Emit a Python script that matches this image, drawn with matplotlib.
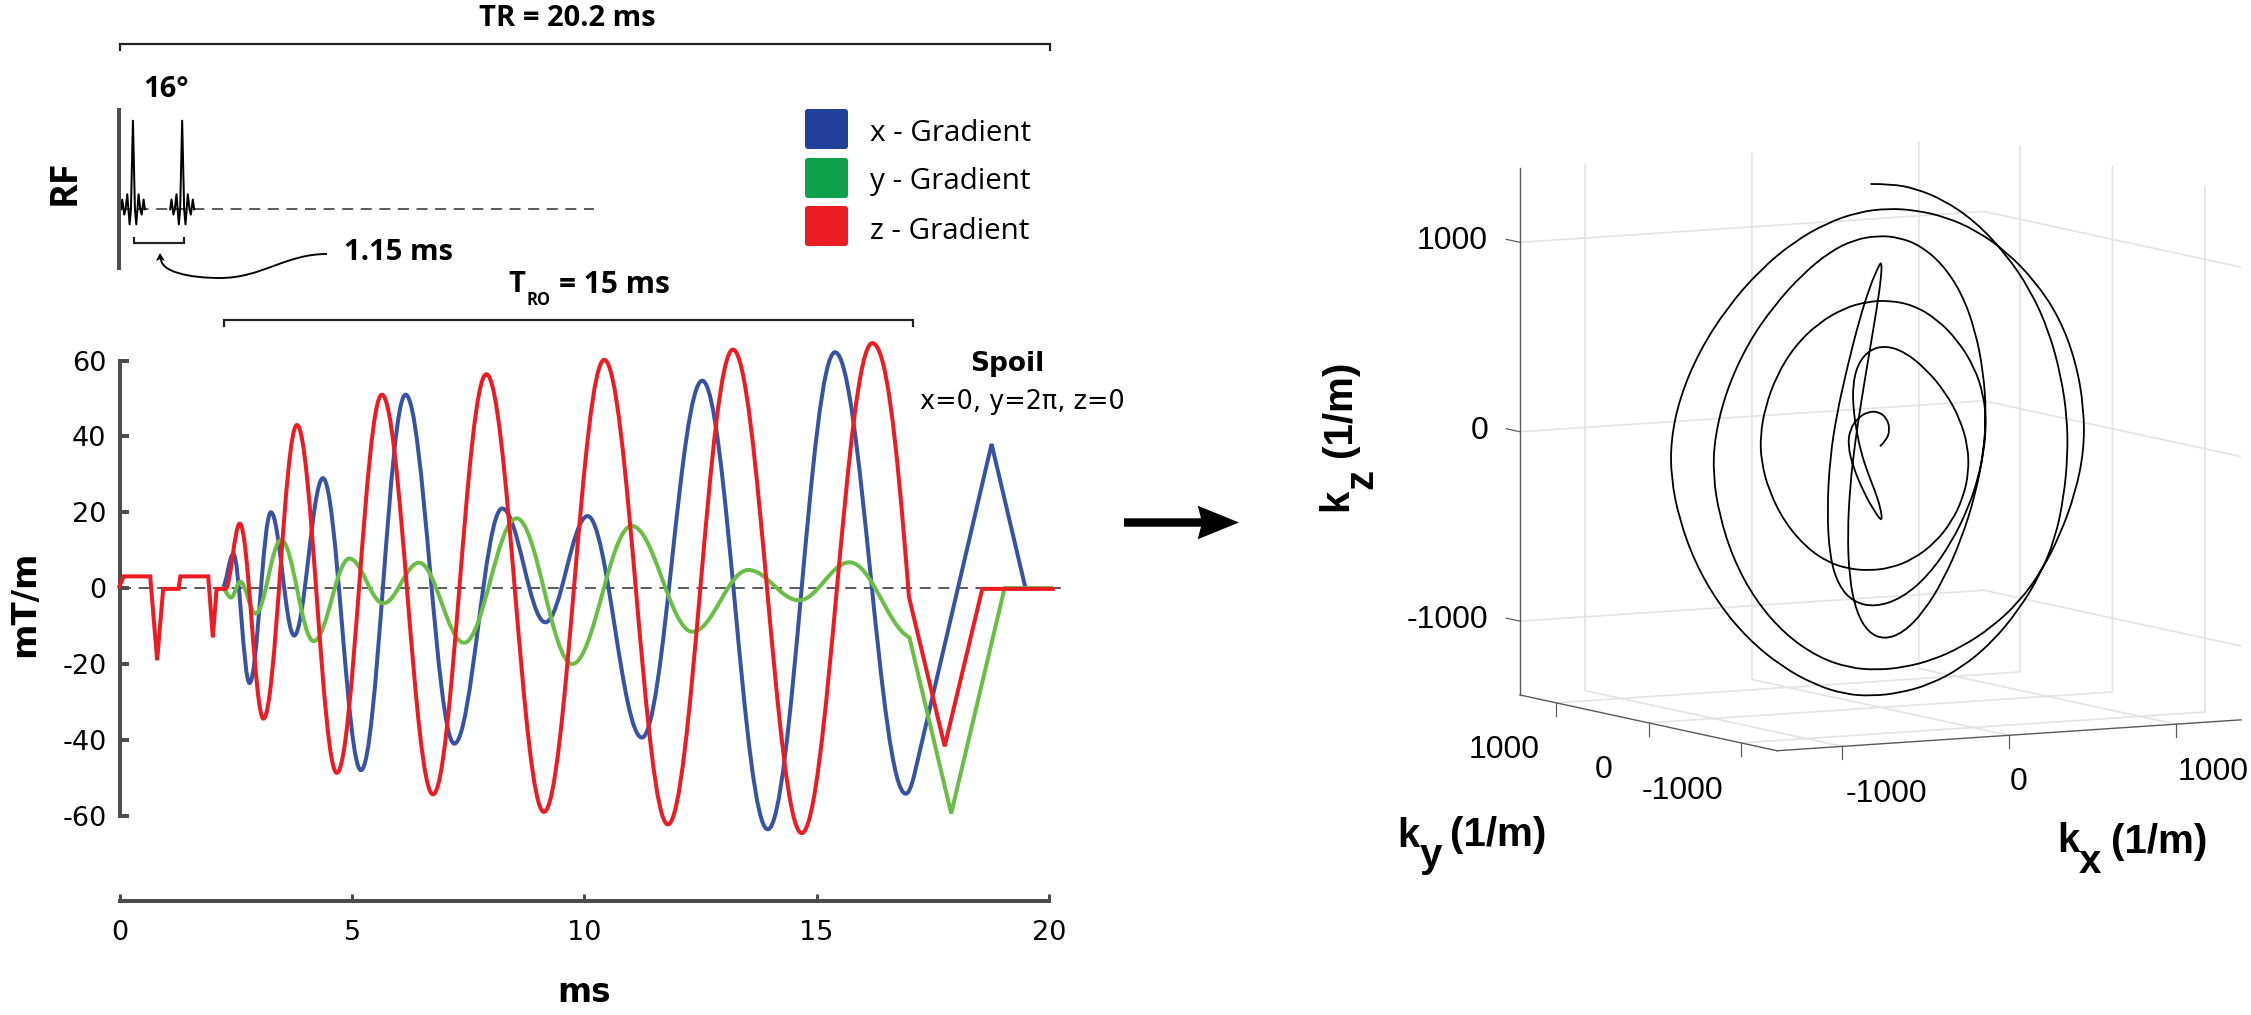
import numpy as np
import matplotlib
matplotlib.use("Agg")
import matplotlib.pyplot as plt
from matplotlib.path import Path
from matplotlib.patches import PathPatch, FancyBboxPatch, Polygon
from mpl_toolkits.mplot3d import proj3d

W, H = 2251, 1015
plt.rcParams['axes.unicode_minus'] = False

# ---------- gradient waveforms: ms, mT/m ----------
x_lead_t = [2.2]
x_lead_v = [0]
x_wave_t = [2.2, 2.44, 2.79, 3.25, 3.75, 4.37, 5.19, 6.15, 7.2, 8.23, 9.16, 10.07, 11.24, 12.54, 13.95, 15.4, 16.92, 17.1]
x_wave_v = [0, 9, -25, 20, -12.5, 29, -48, 51, -41, 21, -9, 19, -39.4, 54.7, -63.6, 62.2, -54.2, -49.5]
x_ramp_t = [18.77, 19.5]
x_ramp_v = [38, 0]

y_lead_t = [2.2]
y_lead_v = [0]
y_wave_t = [2.2, 2.39, 2.59, 2.92, 3.47, 4.17, 4.94, 5.67, 6.44, 7.41, 8.54, 9.74, 11.02, 12.33, 13.53, 14.62, 15.71, 17.0]
y_wave_v = [0, -2.5, 1.7, -6.7, 12.7, -14, 7.8, -4, 6.7, -14.4, 18.4, -20, 16.4, -11.5, 4.8, -3.2, 6.8, -13]
y_ramp_t = [17.9, 19.05, 20.1]
y_ramp_v = [-59.4, 0, 0]

z_lead_t = [-0.03, 0.08, 0.65, 0.8, 0.93, 1.26, 1.30, 1.9, 2.0, 2.08, 2.27]
z_lead_v = [0, 3.1, 3.1, -19, -0.2, -0.2, 3.1, 3.1, -13, -0.2, -0.2]
z_wave_t = [2.27, 2.58, 3.09, 3.81, 4.67, 5.64, 6.74, 7.89, 9.13, 10.43, 11.8, 13.2, 14.68, 16.2, 16.99]
z_wave_v = [-0.2, 17, -34.4, 43, -48.7, 51, -54.4, 56.4, -59, 60.2, -62.3, 62.9, -64.6, 64.6, -2.3]
z_ramp_t = [17.76, 18.57, 20.13]
z_ramp_v = [-41.7, -0.2, -0.2]

grad_xticks = [0, 5, 10, 15, 20]
grad_yticks = [60, 40, 20, 0, -20, -40, -60]

# ---------- RF pulses ----------
rf_centres = [0.3, 1.36]
rf_offset = [-0.258, -0.23, -0.187, -0.158, -0.122, -0.072, -0.043, 0, 0.043, 0.072, 0.122, 0.158, 0.187, 0.23, 0.258]
rf_amp = [0, 0.11, -0.06, 0, 0.17, -0.17, 0, 1, 0, -0.17, 0.17, 0, -0.06, 0.11, 0]

# ---------- k-space trajectory (1/m) ----------
kx = [-3, 37, 65, 39, -24, -74, -151, -196, -201, -151, -70, 21, 61, 68, 49, 0, -29, -43, -62, -62,
      -59, -6, 71, 170, 293, 396, 475, 517, 514, 495, 442, 358, 236, 107, -8, -145, -244, -387, -529, -635,
      -687, -693, -674, -610, -503, -365, -186, -76, 76, 225, 375, 531, 648, 709, 732, 720, 679, 597, 475, 313,
      137, -60, -228, -356, -440, -482, -441, -383, -275, -156, -74, -13, 7, 35, 42, 37, 16, -3, -50, -135,
      -171, -170, -116, -29, 59, 134, 209, 291, 354, 401, 431, 448, 437, 391, 293, 168, 53, -77, -202, -313,
      -440, -587, -723, -847, -917, -922, -903, -836, -733, -582, -390, -227, -78, 65, 222, 365, 548, 699, 837, 942,
      1057, 1109, 1120, 1096, 1010, 871, 698, 518, 318, 159, -11, -192, -405, -616, -825, -1026, -1204, -1321, -1367, -1358,
      -1313, -1210, -1067, -884, -682, -460, -278, -135, 53, 243, 434, 648, 818, 969, 1058, 1116, 1148, 1150, 1122, 1040,
      934, 770, 562, 373, 186, 38, -87]
ky = [0, 0, -10, -15, -20, -20, -15, -5, 10, 40, 60, 80, 90, 110, 130, 150, 170, 180, 190, 200,
      170, 120, 80, 60, 30, 0, -20, -35, -40, -20, 10, 40, 70, 90, 100, 105, 105, 100, 95, 85,
      70, 60, 50, 40, 35, 30, 30, 30, 35, 50, 70, 100, 130, 150, 165, 170, 150, 110, 70, 30,
      0, -30, -100, -170, -230, -270, -250, -200, -130, -60, -20, 0, 0, 40, 100, 180, 250, 270, 240, 130,
      40, -30, -60, -90, -140, -220, -300, -370, -400, -405, -380, -320, -250, -190, -150, -125, -115, -115, -70, -20,
      40, 100, 140, 170, 170, 160, 140, 100, 50, 0, -50, -80, -100, -130, -170, -200, -230, -245, -248, -240,
      -230, -220, -200, -160, -135, -115, -105, -105, -105, -105, -105, -125, -150, -170, -185, -189, -185, -180, -175, -170,
      -165, -160, -155, -150, -145, -140, -135, -130, -115, -95, -75, -50, -30, -10, 5, 20, 35, 45, 49, 45,
      35, 25, 10, -5, -20, -35, -50]
kz = [-11, 4, 74, 147, 181, 187, 161, 89, 9, -103, -268, -385, -425, -352, -283, -159, -54, 52, 175, 280,
      423, 496, 520, 491, 382, 256, 112, -47, -169, -311, -434, -555, -639, -678, -683, -664, -632, -553, -403, -220,
      -39, 68, 226, 399, 551, 667, 741, 755, 760, 727, 645, 510, 350, 204, 60, -81, -217, -384, -548, -728,
      -837, -875, -823, -720, -568, -314, 33, 165, 432, 700, 849, 940, 968, 906, 741, 487, 164, -13, -218, -483,
      -717, -886, -1000, -1038, -1002, -884, -722, -473, -245, -18, 171, 375, 614, 804, 964, 1065, 1106, 1126, 1108, 1047,
      934, 761, 571, 329, 34, -105, -333, -579, -791, -988, -1117, -1168, -1183, -1174, -1141, -1084, -978, -862, -694, -525,
      -287, -62, 111, 407, 630, 829, 996, 1122, 1204, 1239, 1264, 1262, 1216, 1134, 998, 817, 581, 341, 97, -62,
      -294, -547, -767, -972, -1125, -1244, -1300, -1312, -1312, -1282, -1216, -1091, -927, -727, -575, -352, -109, 48, 278, 547,
      748, 970, 1168, 1278, 1352, 1382, 1384]
k_ticks = [-1000, 0, 1000]
k_lim = 1390
k_tip_index = [12, 72]   # sharp tips of the trajectory, kept out of the line smoothing

legend_names = ["x - Gradient", "y - Gradient", "z - Gradient"]
legend_colors = ["#21409A", "#0DA14B", "#ED1C24"]
line_colors = ["#3953A4", "#6ABD45", "#ED1C24"]
GREY = "#4D4D4D"
px = 72 / 100


def wave_path(lt, lv, wt, wv, rt, rv, end_ratio=0.0):
    verts = list(zip(lt, lv))
    codes = [Path.MOVETO] + [Path.LINETO] * (len(lt) - 1)
    for i in range(len(wt) - 1):
        dt = wt[i + 1] - wt[i]
        dv = wv[i + 1] - wv[i]
        c1 = (wt[i] + 0.3642 * dt, wv[i])
        if i == len(wt) - 2:
            c2 = (wt[i + 1] - 0.3642 * dt, wv[i + 1] - 0.3642 * dv * end_ratio)
        else:
            c2 = (wt[i + 1] - 0.3642 * dt, wv[i + 1])
        verts += [c1, c2, (wt[i + 1], wv[i + 1])]
        codes += [Path.CURVE4] * 3
    verts += list(zip(rt, rv))
    codes += [Path.LINETO] * len(rt)
    return Path(verts, codes)


fig = plt.figure(figsize=(W / 100, H / 100), dpi=100, facecolor='white')

def box(l, t, r, b):
    return [l / W, 1 - b / H, (r - l) / W, (b - t) / H]

# ---------- gradient panel ----------
ax = fig.add_axes(box(120, 360.6, 1048.7, 901))
ax.patch.set_alpha(0)
ax.set_xlim(0, 20)
ax.set_ylim(-82.5, 60)
for s in ['top', 'right']:
    ax.spines[s].set_visible(False)
for s in ['left', 'bottom']:
    ax.spines[s].set_linewidth(4 * px)
    ax.spines[s].set_color(GREY)
ax.spines['left'].set_bounds(-60, 60)
ax.set_xticks(grad_xticks)
ax.set_yticks(grad_yticks)
ax.set_xticklabels([str(v) for v in grad_xticks], fontsize=19.5, family='DejaVu Sans')
ax.set_yticklabels([str(v) for v in grad_yticks], fontsize=19.5, family='DejaVu Sans')
ax.tick_params(axis='x', direction='in', length=7 * px, width=3 * px, color=GREY, pad=14)
ax.tick_params(axis='y', direction='in', length=9 * px, width=4 * px, color=GREY, pad=9.7)
ax.plot([0, 20.41], [0, 0], color=GREY, lw=1.3, dashes=(6.1, 4.2), clip_on=False, zorder=1)
paths = [wave_path(x_lead_t, x_lead_v, x_wave_t, x_wave_v, x_ramp_t, x_ramp_v, end_ratio=1.8),
         wave_path(y_lead_t, y_lead_v, y_wave_t, y_wave_v, y_ramp_t, y_ramp_v, end_ratio=0.4),
         wave_path(z_lead_t, z_lead_v, z_wave_t, z_wave_v, z_ramp_t, z_ramp_v, end_ratio=1.86)]
for i, (p, c) in enumerate(zip(paths, line_colors)):
    ax.add_patch(PathPatch(p, fill=False, edgecolor=c, lw=4 * px, joinstyle='miter',
                           capstyle='butt', clip_on=False, zorder=2 + i))

# ---------- RF panel ----------
ax_rf = fig.add_axes(box(119, 110, 1047.7, 268))
ax_rf.patch.set_alpha(0)
ax_rf.set_xlim(0, 20)
ax_rf.set_ylim((209.3 - 268) / 88.6, (209.3 - 110) / 88.6)
for s in ['top', 'right', 'bottom']:
    ax_rf.spines[s].set_visible(False)
ax_rf.spines['left'].set_linewidth(4 * px)
ax_rf.spines['left'].set_color(GREY)
ax_rf.set_xticks([])
ax_rf.set_yticks([])
ax_rf.plot([0, 10.23], [0, 0], color=GREY, lw=1.3, dashes=(6.1, 4.2), zorder=1)
for c in rf_centres:
    ax_rf.plot(np.array(rf_offset) + c, rf_amp, color='black', lw=2 * px, zorder=2)

# ---------- k-space panel ----------
ax3 = fig.add_axes([0.6, 0.1, 0.3, 0.3], projection='3d', proj_type='ortho')
ax3.view_init(elev=6.9, azim=-119)
ax3.set_xlim(-k_lim, k_lim, view_margin=0)
ax3.set_ylim(-k_lim, k_lim, view_margin=0)
ax3.set_zlim(-k_lim, k_lim, view_margin=0)
ax3.set_box_aspect((1, 1, 1))
ax3.patch.set_alpha(0)
for a in (ax3.xaxis, ax3.yaxis, ax3.zaxis):
    a.set_pane_color((1, 1, 1, 0))
    a.pane.set_edgecolor((1, 1, 1, 0))
    a.line.set_linewidth(0)
    a._axinfo['grid'].update(color='#E3E3E3', linewidth=1.7 * px)
    a._axinfo['tick']['inward_factor'] = 0
    a._axinfo['tick']['outward_factor'] = 0
ax3.set_xticks(k_ticks)
ax3.set_yticks(k_ticks)
ax3.set_zticks(k_ticks)
ax3.set_xticklabels(['', '', ''])
ax3.set_yticklabels(['', '', ''])
ax3.set_zticklabels(['', '', ''])
ax3.tick_params(width=0)

AX_C = '#5A5A5A'
L = k_lim
for xs, ys, zs in [([-L, -L], [L, -L], [-L, -L]), ([-L, L], [-L, -L], [-L, -L]), ([-L, -L], [L, L], [-L, L])]:
    ax3.plot(xs, ys, zs, color=AX_C, lw=1.4 * px)
for t in k_ticks:
    ax3.plot([t, t], [-L, -L], [-L, -L - 69], color=AX_C, lw=1.2 * px)
    ax3.plot([-L, -L], [t, t], [-L, -L - 69], color=AX_C, lw=1.2 * px)
    ax3.plot([-L, -L], [L, L + 150], [t, t], color=AX_C, lw=1.2 * px)


def screen(X, Y, Z):
    ax3.apply_aspect()
    xp, yp, _ = proj3d.proj_transform(X, Y, Z, ax3.get_proj())
    d = ax3.transData.transform(np.column_stack([np.atleast_1d(xp), np.atleast_1d(yp)]))
    return d


side = 800.0
left, bottom = 1480.0, 100.0
for _ in range(4):
    ax3.set_position([left / W, bottom / H, side / W, side / H])
    fig.canvas.draw()
    a = screen(-k_lim, k_lim, -k_lim)[0]
    b = screen(k_lim, -k_lim, -k_lim)[0]
    side *= (2241 - 1520) / (b[0] - a[0])
    ax3.set_position([left / W, bottom / H, side / W, side / H])
    a = screen(-k_lim, k_lim, -k_lim)[0]
    left += 1520 - a[0]
    bottom += (H - 695) - a[1]
ax3.set_position([left / W, bottom / H, side / W, side / H])

xp, yp, _ = proj3d.proj_transform(np.array(kx, float), np.array(ky, float), np.array(kz, float), ax3.get_proj())
pts = np.column_stack([xp, yp])
# light line smoothing of the hand-read trace, tips left as read
smooth = pts.copy()
smooth[1:-1] = (pts[:-2] + 2 * pts[1:-1] + pts[2:]) / 4
smooth[k_tip_index] = pts[k_tip_index]
pts = smooth
verts = [pts[0]]
codes = [Path.MOVETO]
for i in range(1, len(pts) - 1):
    end = pts[-1] if i == len(pts) - 2 else (pts[i] + pts[i + 1]) / 2
    verts += [pts[i], end]
    codes += [Path.CURVE3, Path.CURVE3]
fig.add_artist(PathPatch(Path(verts, codes), fill=False, edgecolor='black', lw=1.8 * px,
                         transform=ax3.transData, clip_on=False, zorder=3))

# ---------- overlay in picture pixels: annotations ----------
ov = fig.add_axes([0, 0, 1, 1], zorder=5)
ov.set_xlim(0, W)
ov.set_ylim(H, 0)
ov.axis('off')
OS = 'Open Sans'
LS = 'Liberation Sans'
DJ = 'DejaVu Sans'


def txt(x, y, s, fam=OS, size=21, weight='bold', ha='center', va='center', rot=0):
    ov.text(x, y, s, family=fam, fontsize=size, fontweight=weight, ha=ha, va=va, rotation=rot, color='black')


def bracket(x0, x1, y, d):
    ov.plot([x0, x0, x1, x1], [y + d, y, y, y + d], color='#222222', lw=2.2 * px, solid_joinstyle='miter')


bracket(120, 1049.5, 43.5, 6)
bracket(224, 913, 319.5, 6)
bracket(134, 184, 242.5, -5)
txt(567, 18, "TR = 20.2 ms")
txt(166, 89, "16\u00b0")
txt(65, 182, "RF", size=27, rot=90)
txt(399, 252, "1.15 ms")
txt(516.5, 285, "T")
txt(538.5, 300, "RO", size=12)
txt(614.5, 285, "= 15 ms", size=21.5)

cp = Path([(327, 254), (285, 254), (262, 278), (220, 278), (190, 278), (160, 272), (161, 258)],
          [Path.MOVETO, Path.CURVE4, Path.CURVE4, Path.CURVE4, Path.CURVE4, Path.CURVE4, Path.CURVE4])
ov.add_patch(PathPatch(cp, fill=False, edgecolor='black', lw=1.9 * px))
ov.add_patch(Polygon([(160, 253), (156, 261), (160.5, 259), (165, 261)], closed=True, fc='black', ec='none'))

for top, name, col, ty in zip([109, 158, 206], legend_names, legend_colors, [133, 181, 231]):
    ov.add_patch(FancyBboxPatch((807, top + 2), 39, 36, boxstyle='round,pad=2,rounding_size=3', fc=col, ec='none'))
    txt(870, ty, name, weight='normal', size=21.3, ha='left')

txt(25, 604, "mT/m", fam=DJ, size=24.5, rot=90)
txt(584, 992, "ms", fam=DJ, size=23.5)
txt(1007, 364, "Spoil", fam=DJ, size=19)
txt(1022, 402, "x=0, y=2\u03c0, z=0", fam=DJ, size=18.4, weight='normal')

ov.add_patch(Polygon([(1124, 518.3), (1201, 518.3), (1197.7, 505.7), (1239, 522.5), (1197.7, 539.3),
                      (1201, 526.7), (1124, 526.7)], closed=True, fc='black', ec='none'))

for y, s in zip([241, 431, 620], ["1000", "0", "-1000"]):
    txt(1488, y, s, fam=LS, size=23, weight='normal', ha='right')
for x, y, s in zip([1504, 1604, 1682], [750, 770, 791], ["1000", "0", "-1000"]):
    txt(x, y, s, fam=LS, size=23, weight='normal')
for x, y, s in zip([1886, 2019, 2213], [794, 782, 772], ["-1000", "0", "1000"]):
    txt(x, y, s, fam=LS, size=23, weight='normal')

txt(2057, 851.7, "k", fam=LS, size=29, ha='left', va='baseline')
txt(2079, 873, "x", fam=LS, size=29, ha='left', va='baseline')
txt(2159.5, 842, "(1/m)", fam=LS, size=29)
txt(1397, 847, "k", fam=LS, size=29, ha='left', va='baseline')
txt(1420, 867, "y", fam=LS, size=29, ha='left', va='baseline')
txt(1498.5, 835, "(1/m)", fam=LS, size=29)
txt(1336, 500, "k", fam=LS, size=29, rot=90)
txt(1361, 479, "z", fam=LS, size=29, rot=90)
txt(1340, 409, "(1/m)", fam=LS, size=29, rot=90)

fig.savefig("out.png", dpi=100, facecolor='white')
